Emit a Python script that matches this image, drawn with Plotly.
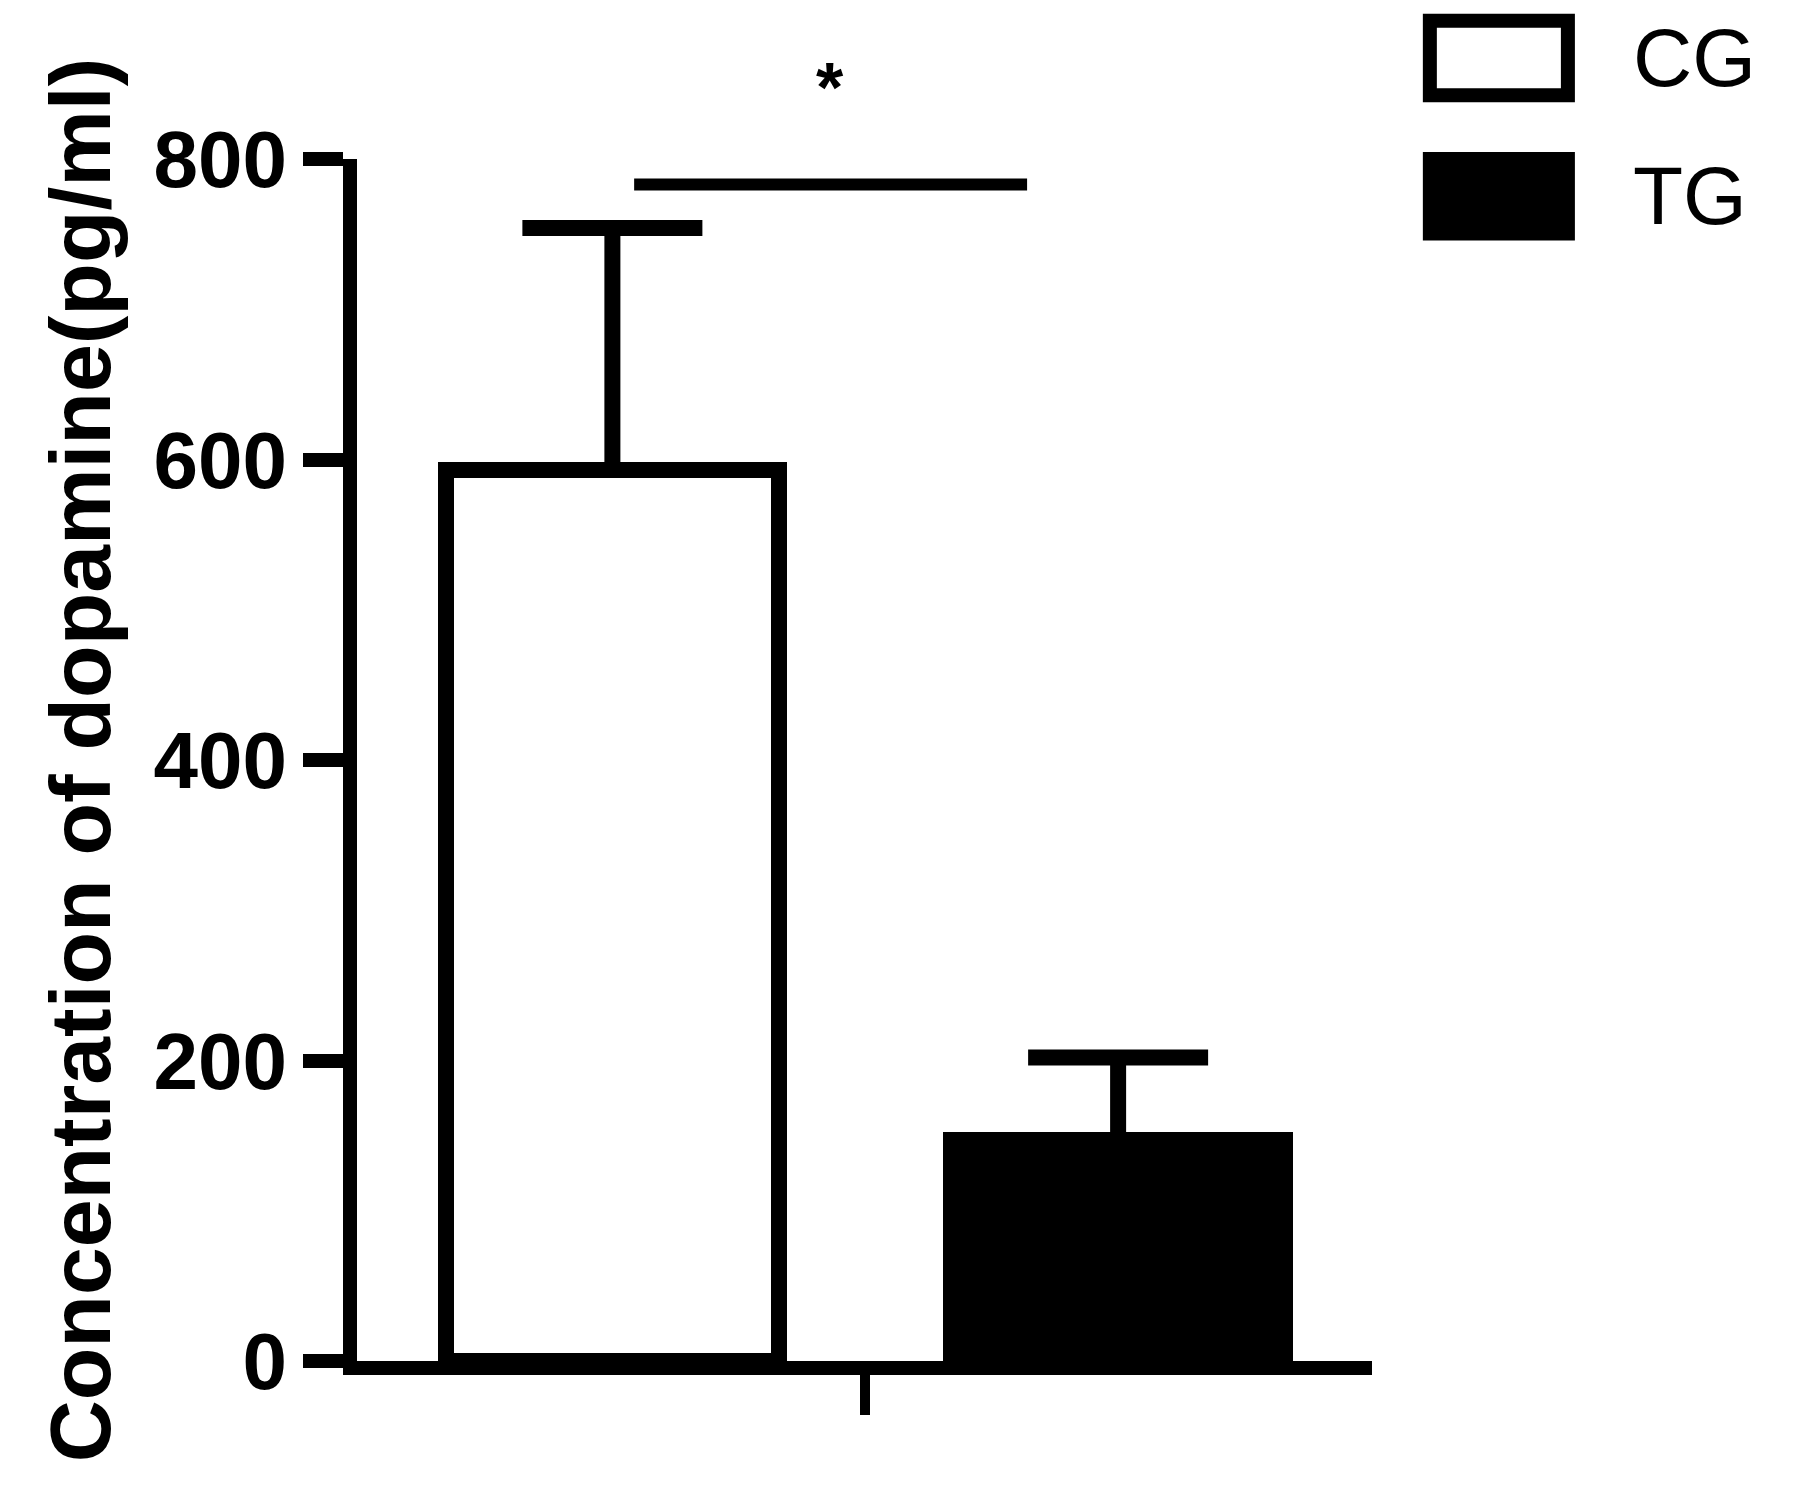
import plotly.graph_objects as go

groups = ["CG", "TG"]
means = [593, 147]
errors = [161, 55]
sig_y = 783

W, H = 1805, 1511
fig = go.Figure()
fills = ["white", "black"]
for i, g in enumerate(groups):
    fig.add_trace(go.Bar(
        x=[i], y=[means[i]], width=0.66, name=g,
        marker=dict(color=fills[i], line=dict(color="black", width=16)),
        error_y=dict(type="data", array=[errors[i]], arrayminus=[0], symmetric=False,
                     color="black", thickness=16, width=90),
        showlegend=False,
    ))

# significance bar
fig.add_shape(type="line", x0=0.043, x1=0.82, y0=sig_y, y1=sig_y, xref="x", yref="y",
              line=dict(color="black", width=12))
fig.add_annotation(x=0.466, y=1.025, xref="paper", yref="paper", text="<b>*</b>", showarrow=False,
                   yanchor="bottom", font=dict(size=70, color="black", family="Liberation Sans"))

# manual legend
legend_y = [(1.053, 1.115, 1.124), (0.938, 1.0, 1.009)]
for i, g in enumerate(groups):
    y0, y1, yt = legend_y[i]
    fig.add_shape(type="rect", xref="paper", yref="paper", x0=1.057, x1=1.193, y0=y0, y1=y1,
                  fillcolor=fills[i], line=dict(color="black", width=14))
    fig.add_annotation(xref="paper", yref="paper", x=1.255, y=yt, text=g, showarrow=False,
                       xanchor="left", font=dict(size=82, color="black", family="Liberation Sans"))

fig.update_layout(
    width=W, height=H, plot_bgcolor="white", paper_bgcolor="white",
    margin=dict(l=349, r=441, t=151, b=158),
    font=dict(family="Liberation Sans", color="black"),
    bargap=0,
)
fig.update_xaxes(range=[-0.505, 1.502], showline=True, linecolor="black", linewidth=14,
                 tickvals=[0.5], ticktext=[""], ticks="outside", ticklen=40, tickwidth=10,
                 tickcolor="black", showgrid=False, zeroline=False)
fig.update_yaxes(range=[0, 800], tickvals=[0, 200, 400, 600, 800], showline=True, linecolor="black",
                 linewidth=14, ticks="outside", ticklen=40, tickwidth=14, tickcolor="black",
                 showgrid=False, zeroline=False,
                 tickfont=dict(size=80, family="Liberation Sans", color="black", weight="bold"),
                 title=dict(text="<b>Concentration of dopamine(pg/ml)</b>", standoff=20,
                            font=dict(size=86, family="Liberation Sans", color="black")))

fig.write_html("out.html")
